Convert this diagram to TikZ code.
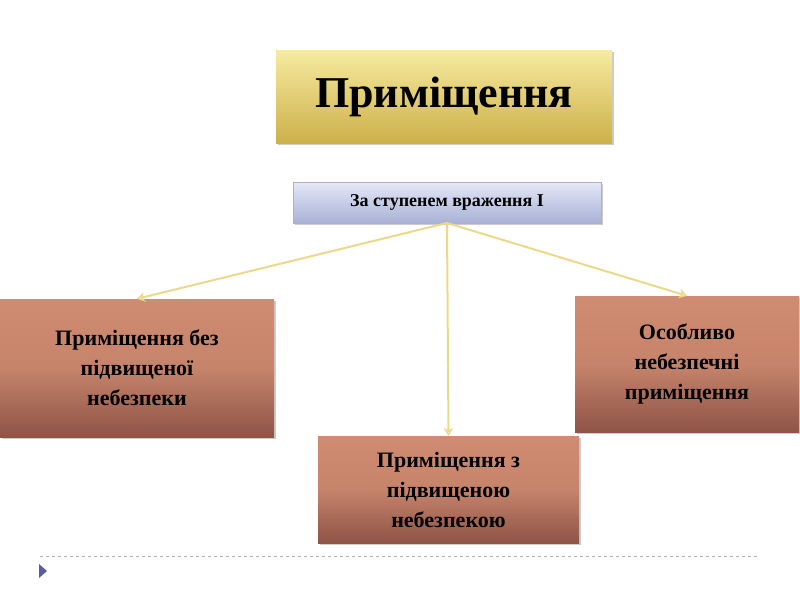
\documentclass[tikz,border=0pt]{standalone}
\usepackage{fontspec}
\setmainfont{Liberation Serif}
\usetikzlibrary{arrows.meta,shadows}
\definecolor{gold1}{HTML}{F6EBA0}
\definecolor{gold2}{HTML}{CDB04A}
\definecolor{br1}{HTML}{D08C72}
\definecolor{br2}{HTML}{8E5446}
\definecolor{bl1}{HTML}{E4E8F6}
\definecolor{bl2}{HTML}{A9B2D8}
\definecolor{arr}{HTML}{EBD98A}
\tikzset{
 box/.style={draw=none,align=center,font=\bfseries,text=black,drop shadow={shadow xshift=2pt,shadow yshift=-2pt,opacity=0.4}},
 brown/.style={box,top color=br1,bottom color=br2,middle color=br1!85!br2,inner sep=0pt,font=\bfseries\fontsize{22}{30}\selectfont},
 conn/.style={draw=arr,line width=2pt,-{Stealth[length=8pt,width=10pt,open]}}
}
\begin{document}
\begin{tikzpicture}[x=1pt,y=-1pt]
\useasboundingbox (0,0) rectangle (800,600);
\node[box,top color=gold1,bottom color=gold2,minimum width=336pt,minimum height=93pt,font=\bfseries\fontsize{44}{50}\selectfont] (t) at (444,96.5) {Приміщення};
\node[box,top color=bl1,bottom color=bl2,draw=gray!60,minimum width=308pt,minimum height=41pt,font=\bfseries\fontsize{18}{22}\selectfont] (s) at (447,202.5) {За ступенем враження І};
\node[brown,minimum width=274pt,minimum height=138pt] (a) at (137,368) {Приміщення без\\підвищеної\\небезпеки};
\node[brown,minimum width=261pt,minimum height=107pt] (b) at (448.5,489.5) {Приміщення з\\підвищеною\\небезпекою};
\node[brown,minimum width=224pt,minimum height=136pt] (c) at (687,364) {Особливо\\небезпечні\\приміщення};
\coordinate (o) at (447,223);
\draw[conn] (o) -- (a.north);
\draw[conn] (o) -- (b.north);
\draw[conn] (o) -- (c.north);
\draw[gray!60,dashed] (40,556) -- (760,556);
\fill[gray!70!blue] (39,564) -- (47,571) -- (39,578) -- cycle;
\end{tikzpicture}
\end{document}
